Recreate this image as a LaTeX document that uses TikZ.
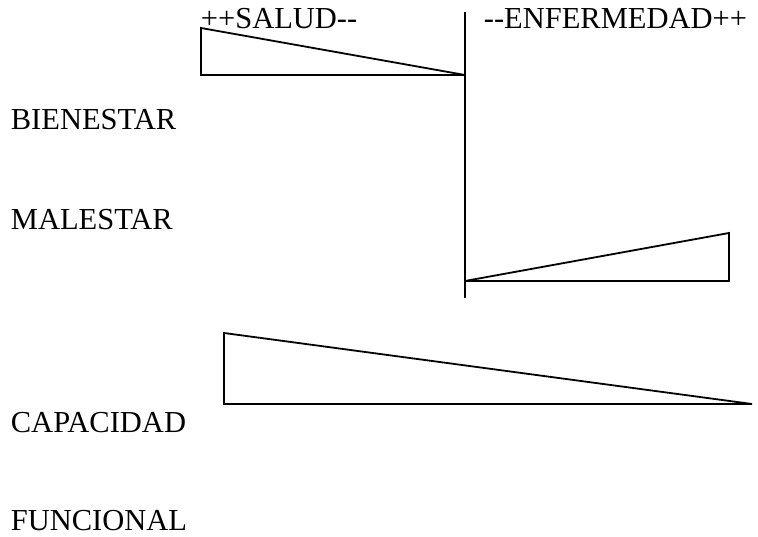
\documentclass[tikz,border=0pt]{standalone}
\usepackage{fontspec}
\setmainfont{Liberation Serif}

\begin{document}
\begin{tikzpicture}[x=1pt,y=-1pt,font=\fontsize{30.5}{36}\selectfont,line width=1.8pt,inner sep=0pt]
\useasboundingbox (0,0) rectangle (758,537);
% eje vertical y cunas
\draw (465,12)--(465,298);
\draw (201,28)--(201,75)--(465,75)--cycle;
\draw (465,281)--(729,233)--(729,281)--cycle;
\draw (224,333)--(224,404)--(752,404)--cycle;
% rotulos
\node[anchor=base west] (salud) at (200,29) {++SALUD-{}-};
\node[anchor=base west] (enf) at (483,29) {-{}-ENFERMEDAD++};
\foreach \name/\txt/\y in {bien/BIENESTAR/130,mal/MALESTAR/230,cap/CAPACIDAD/432,func/FUNCIONAL/530}{
  \node[anchor=base west] (\name) at (10,\y) {\txt};
}
\end{tikzpicture}
\end{document}
